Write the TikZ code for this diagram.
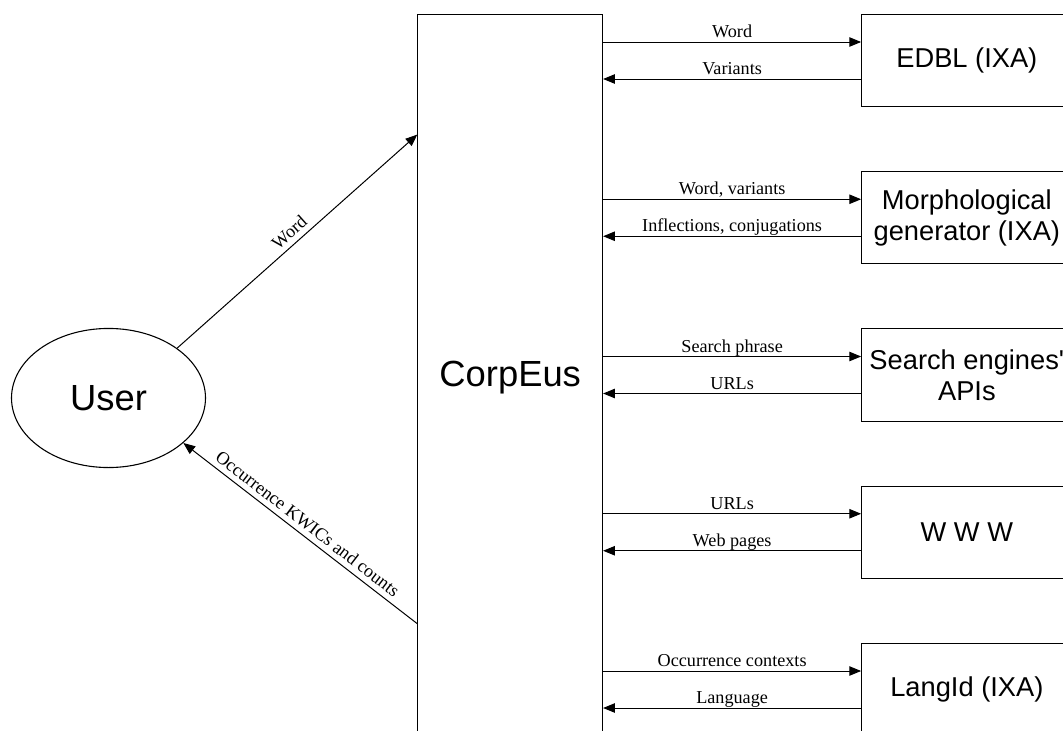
\documentclass[tikz,border=0pt]{standalone}
\usepackage{fontspec}
\setmainfont{Liberation Serif}
\newfontfamily\boxfont{Liberation Sans}
\usetikzlibrary{arrows.meta,calc,shapes.geometric}

\tikzset{
  flow/.style={-{Triangle[length=6.5pt,width=5.2pt]}, line width=0.55pt},
  lbl/.style={above, font=\fontsize{10}{12}\selectfont, inner sep=2.2pt, text depth=0pt},
  srcbox/.style={draw, line width=0.6pt, minimum width=115.7pt, minimum height=50.8pt,
    inner sep=0pt, align=center, font=\boxfont\fontsize{15}{17}\selectfont},
  bigbox/.style={draw, line width=0.6pt, inner sep=0pt, font=\boxfont\fontsize{20}{24}\selectfont},
}

\begin{document}
\begin{tikzpicture}[x=0.55pt, y=-0.55pt]
  \useasboundingbox (0,0) rectangle (1063,731);
  \clip (0,0) rectangle (1063,731);
  % User and CorpEus
  \node[bigbox, ellipse, minimum width=106.7pt, minimum height=76.5pt] (user) at (108.5,398) {User};
  \node[bigbox, minimum width=101.6pt, minimum height=399.7pt] (corpeus) at (510.2,377.6) {CorpEus};
  % Resources on the right
  \foreach \nm/\txt [count=\i from 0] in {edbl/EDBL (IXA), morph/{Morphological\\generator (IXA)},
      search/{Search engines\textquotesingle\\APIs}, www/W W W, langid/LangId (IXA)}
    \node[srcbox] (\nm) at (966.85, 60.5+157.25*\i) {\txt};
  % Requests and answers
  \foreach \nm/\fwd/\back in {edbl/Word/Variants, morph/{Word, variants}/{Inflections, conjugations},
      search/Search phrase/URLs, www/URLs/Web pages, langid/Occurrence contexts/Language} {
    \coordinate (\nm-to) at ($(\nm.west)+(0,-18.5)$);
    \coordinate (\nm-from) at ($(\nm.west)+(0,18.5)$);
    \draw[flow] (corpeus.east |- \nm-to) -- node[lbl] {\fwd} (\nm-to);
    \draw[flow] (\nm-from) -- node[lbl] {\back} (corpeus.east |- \nm-from);
  }
  % User side
  \coordinate (word-in) at ($(corpeus.north west)+(0,120.9)$);
  \coordinate (kwic-out) at ($(corpeus.north west)+(0,610)$);
  \draw[flow] (user.36) -- node[lbl, sloped, inner sep=3pt] {Word} (word-in);
  \draw[flow] (kwic-out) -- node[lbl, sloped, inner sep=3pt] {Occurrence KWICs and counts} (user.-31);
\end{tikzpicture}
\end{document}
